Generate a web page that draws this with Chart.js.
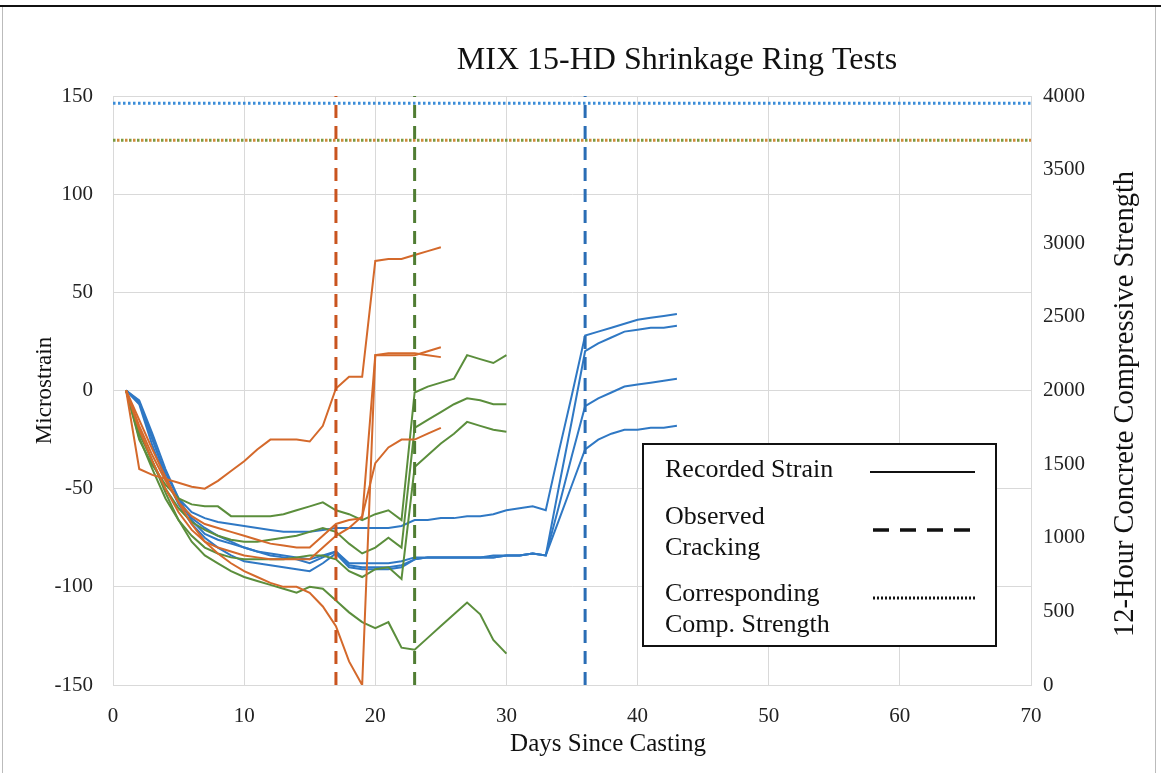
<!DOCTYPE html>
<html><head><meta charset="utf-8">
<script src="https://cdn.jsdelivr.net/npm/chart.js@4/dist/chart.umd.min.js"></script>
<style>html,body{margin:0;padding:0;background:#fff}#wrap{width:1161px;height:773px;position:relative}</style>
</head><body><div id="wrap"><canvas id="c" width="1161" height="773"></canvas></div>
<script>
// ---- data ----
const chartTitle = 'MIX 15-HD Shrinkage Ring Tests';
const xTitle = 'Days Since Casting';
const yTitle = 'Microstrain';
const y2Title = '12-Hour Concrete Compressive Strength';
const xTicks = [0,10,20,30,40,50,60,70];
const yTicks = [-150,-100,-50,0,50,100,150];
const y2Ticks = [0,500,1000,1500,2000,2500,3000,3500,4000];
const firstDay = 1;

const orange1 = [0,-40,-43,-45,-47,-49,-50,-46,-41,-36,-30,-25,-25,-25,-26,-18,1,7,7,66,67,67,69,71,73];
const orange2 = [0,-15,-30,-44,-57,-68,-77,-83,-88,-92,-95,-98,-100,-100,-103,-110,-120,-138,-150,18,18,18,18,20,22];
const orange3 = [0,-18,-33,-46,-57,-64,-68,-70,-72,-74,-76,-78,-79,-80,-80,-74,-68,-66,-65,18,19,19,19,18,17];
const orange4 = [0,-20,-36,-50,-62,-71,-77,-80,-82,-84,-85,-86,-86,-86,-86,-80,-74,-70,-64,-37,-29,-25,-25,-22,-19];

const green1 = [0,-25,-38,-48,-55,-58,-59,-59,-64,-64,-64,-64,-63,-61,-59,-57,-61,-63,-66,-63,-61,-66,-1,2,4,6,18,16,14,18];
const green2 = [0,-22,-36,-50,-60,-67,-71,-74,-76,-77,-77,-76,-75,-74,-72,-70,-72,-78,-83,-80,-75,-80,-19,-15,-11,-7,-4,-5,-7,-7];
const green3 = [0,-24,-40,-55,-66,-74,-80,-83,-85,-86,-86,-86,-86,-85,-84,-84,-86,-92,-95,-91,-90,-96,-39,-33,-27,-22,-16,-18,-20,-21];
const green4 = [0,-20,-36,-52,-66,-77,-84,-88,-92,-95,-97,-99,-101,-103,-100,-101,-107,-113,-118,-121,-118,-131,-132,-126,-120,-114,-108,-114,-127,-134];

const blue1 = [0,-6,-25,-42,-55,-62,-65,-67,-68,-69,-70,-71,-72,-72,-72,-71,-70,-70,-70,-70,-70,-69,-66,-66,-65,-65,-64,-64,-63,-61,-60,-59,-61,-31,-2,28,30,32,34,36,37,38,39];
const blue2 = [0,-7,-28,-45,-57,-65,-70,-74,-77,-80,-82,-83,-84,-85,-86,-84,-82,-89,-90,-90,-90,-89,-86,-85,-85,-85,-85,-85,-85,-84,-84,-83,-84,-49,-15,20,24,27,30,31,32,32,33];
const blue3 = [0,-6,-24,-44,-58,-68,-75,-80,-84,-87,-88,-89,-90,-91,-92,-88,-83,-90,-91,-91,-91,-90,-86,-85,-85,-85,-85,-85,-85,-84,-84,-83,-84,-59,-33,-8,-4,-1,2,3,4,5,6];
const blue4 = [0,-5,-22,-40,-55,-66,-73,-76,-78,-80,-82,-84,-85,-86,-88,-85,-82,-88,-88,-88,-88,-87,-85,-85,-85,-85,-85,-85,-84,-84,-84,-83,-84,-66,-48,-30,-25,-22,-20,-20,-19,-19,-18];

const crackDayOrange = 17, crackDayGreen = 23, crackDayBlue = 36;
const strengthBlue = 3950, strengthOrange = 3700, strengthGreen = 3700;

const legendLabels = [['Recorded Strain'], ['Observed','Cracking'], ['Corresponding','Comp. Strength']];

// ---- styles ----
const C_OR = '#D4692B', C_GR = '#5B8E3C', C_BL = '#2F78C4';
const C_ORD = '#C9541F', C_GRD = '#507D33', C_BLD = '#2A6DB5';
const FONT = '"Liberation Serif", "Times New Roman", serif';

const toPts = arr => arr.map((v,i)=>({x:firstDay+i, y:v}));
const strainDs = (arr,color) => ({data:toPts(arr), borderColor:color, borderWidth:2, pointRadius:0, tension:0, fill:false, yAxisID:'y', order:5});
const vline = (d,color) => ({data:[{x:d,y:yTicks[0]},{x:d,y:yTicks[yTicks.length-1]}], borderColor:color, borderWidth:3, borderDash:[13,8], pointRadius:0, yAxisID:'y', order:1});
const hline = (v,color,dash,off) => ({data:[{x:xTicks[0],y:v},{x:xTicks[xTicks.length-1],y:v}], borderColor:color, borderWidth:3, borderDash:dash, borderDashOffset:off, pointRadius:0, yAxisID:'y2', order:1});

const datasets = [
  strainDs(orange1,C_OR), strainDs(orange2,C_OR), strainDs(orange3,C_OR), strainDs(orange4,C_OR),
  strainDs(green1,C_GR), strainDs(green2,C_GR), strainDs(green3,C_GR), strainDs(green4,C_GR),
  strainDs(blue1,C_BL), strainDs(blue2,C_BL), strainDs(blue3,C_BL), strainDs(blue4,C_BL),
  vline(crackDayOrange,C_ORD), vline(crackDayGreen,C_GRD), vline(crackDayBlue,C_BLD),
  hline(strengthBlue,'#3A8CD8',[2.5,2.5],0), hline(strengthGreen,'#7A9A40',[2.5,5.5],0), hline(strengthOrange,'#D0883A',[2.5,5.5],4)
];

const decor = {
  id:'decor',
  beforeDraw(chart){
    const ctx = chart.ctx;
    ctx.save();
    ctx.fillStyle='#fff'; ctx.fillRect(0,0,chart.width,chart.height);
    ctx.fillStyle='#111'; ctx.fillRect(0,5,chart.width,2);
    ctx.fillStyle='#bbb'; ctx.fillRect(2,7,1,chart.height-7); ctx.fillRect(1155,7,1,chart.height-7);
    ctx.restore();
  },
  afterDraw(chart){
    const ctx = chart.ctx;
    ctx.save();
    ctx.fillStyle='#111'; ctx.textAlign='center'; ctx.textBaseline='middle';
    // title
    ctx.font='32px '+FONT;
    ctx.fillText(chartTitle, 677, 61);
    // x axis title
    ctx.font='25px '+FONT;
    ctx.fillText(xTitle, 608, 744);
    // right axis title
    ctx.save(); ctx.translate(1126, 404); ctx.rotate(-Math.PI/2);
    ctx.font='28.5px '+FONT; ctx.fillText(y2Title, 0, 0); ctx.restore();
    // legend box
    const bx=643, by=444, bw=353, bh=202;
    ctx.fillStyle='#fff'; ctx.fillRect(bx,by,bw,bh);
    ctx.strokeStyle='#111'; ctx.lineWidth=2; ctx.strokeRect(bx,by,bw,bh);
    ctx.fillStyle='#111'; ctx.font='26px '+FONT; ctx.textAlign='left'; ctx.textBaseline='middle';
    ctx.fillText(legendLabels[0][0], 665, 470);
    ctx.fillText(legendLabels[1][0], 665, 517);
    ctx.fillText(legendLabels[1][1], 665, 548);
    ctx.fillText(legendLabels[2][0], 665, 594);
    ctx.fillText(legendLabels[2][1], 665, 625);
    ctx.strokeStyle='#111';
    ctx.lineWidth=2; ctx.setLineDash([]); ctx.beginPath(); ctx.moveTo(870,472); ctx.lineTo(975,472); ctx.stroke();
    ctx.lineWidth=3.5; ctx.setLineDash([16,11]); ctx.beginPath(); ctx.moveTo(873,530); ctx.lineTo(975,530); ctx.stroke();
    ctx.lineWidth=3; ctx.setLineDash([2,2]); ctx.beginPath(); ctx.moveTo(873,598); ctx.lineTo(977,598); ctx.stroke();
    ctx.restore();
  }
};

const tickFont = {family:FONT, size:21};
const plain = v => String(v);
new Chart(document.getElementById('c'), {
  type:'line',
  data:{datasets},
  options:{
    responsive:false, animation:false, devicePixelRatio:1,
    layout:{padding:{top:96,left:0,right:0,bottom:0}},
    plugins:{legend:{display:false}, title:{display:false}, tooltip:{enabled:false}},
    scales:{
      x:{type:'linear', min:xTicks[0], max:xTicks[xTicks.length-1],
        afterBuildTicks:s=>{s.ticks=xTicks.map(v=>({value:v}));},
        afterFit:s=>{s.height=88;},
        grid:{color:'#d9d9d9', drawTicks:false}, border:{color:'#d9d9d9'},
        ticks:{font:tickFont, color:'#222', padding:19, maxRotation:0, callback:plain},
        title:{display:false}},
      y:{position:'left', min:yTicks[0], max:yTicks[yTicks.length-1],
        afterBuildTicks:s=>{s.ticks=yTicks.map(v=>({value:v}));},
        afterFit:s=>{s.width=113;},
        grid:{color:'#d9d9d9', drawTicks:false}, border:{color:'#d9d9d9'},
        ticks:{font:tickFont, color:'#222', padding:20, callback:plain},
        title:{display:true, text:yTitle, font:{family:FONT,size:23}, color:'#111', padding:{top:31,bottom:0}}},
      y2:{position:'right', min:y2Ticks[0], max:y2Ticks[y2Ticks.length-1],
        afterBuildTicks:s=>{s.ticks=y2Ticks.map(v=>({value:v}));},
        afterFit:s=>{s.width=130;},
        grid:{drawOnChartArea:false, drawTicks:false}, border:{color:'#d9d9d9'},
        ticks:{font:tickFont, color:'#222', padding:12, callback:plain}}
    }
  },
  plugins:[decor]
});
</script></body></html>
